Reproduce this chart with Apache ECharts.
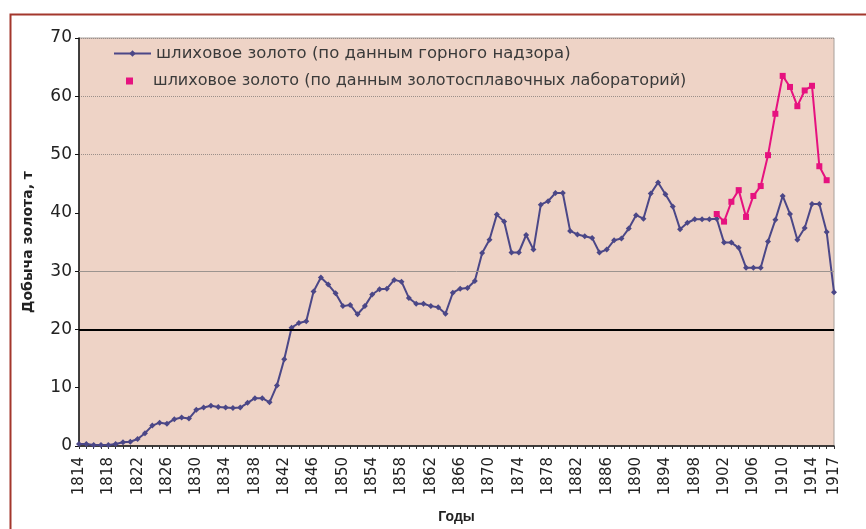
<!DOCTYPE html>
<html>
<head>
<meta charset="utf-8">
<script src="https://cdn.jsdelivr.net/npm/echarts@6/dist/echarts.min.js"></script>
<style>
html,body{margin:0;padding:0;background:#fff;}
#c{width:866px;height:529px;}
</style>
</head>
<body>
<div id="c"></div>
<script>
// ---- data ----
var years = [];
for (var y = 1814; y <= 1917; y++) years.push(String(y));

var gornyNadzor = [
  0.34, 0.34, 0.17, 0.17, 0.17, 0.34, 0.63, 0.74, 1.2, 2.2,
  3.5, 4.0, 3.8, 4.6, 4.9, 4.7, 6.2, 6.6, 6.9, 6.7,
  6.6, 6.5, 6.6, 7.4, 8.2, 8.2, 7.5, 10.4, 14.9, 20.3,
  21.1, 21.4,
  26.5, 28.9, 27.7, 26.2, 24.0, 24.2, 22.6, 24.0, 26.0, 26.9,
  27.0, 28.5, 28.2, 25.4, 24.4, 24.4, 24.0, 23.8, 22.7, 26.3,
  27.0, 27.1, 28.3,
  33.1, 35.4, 39.7, 38.5, 33.2, 33.2, 36.2, 33.7, 41.4, 42.0,
  43.4, 43.4, 36.9, 36.3, 36.0, 35.7, 33.2, 33.7, 35.3, 35.6,
  37.3, 39.6, 39.0, 43.3, 45.2, 43.2, 41.1, 37.2, 38.3, 38.9,
  38.9, 38.9, 39.0,
  34.9, 34.9, 34.0, 30.6, 30.6, 30.6, 35.1, 38.8, 42.9, 39.8,
  35.4, 37.4, 41.5, 41.5, 36.7, 26.4
];

var labYears = [1901,1902,1903,1904,1905,1906,1907,1908,1909,1910,1911,1912,1913,1914,1915,1916];
var labValues = [39.8, 38.5, 41.9, 43.9, 39.3, 42.9, 44.6, 49.9, 57.0, 63.5, 61.6, 58.3, 61.0, 61.8, 48.0, 45.6];

var yTicks = {min: 0, max: 70, step: 10};
var refLine = 20;
var gridLine30 = 30;

var name1 = 'шлиховое золото (по данным горного надзора)';
var name2 = 'шлиховое золото (по данным золотосплавочных лабораторий)';

// build lab series aligned with categories
var labSeries = years.map(function (yy) {
  var i = labYears.indexOf(Number(yy));
  return i >= 0 ? labValues[i] : null;
});

var chart = echarts.init(document.getElementById('c'), null, {renderer: 'canvas'});
var FONT = 'DejaVu Sans';
chart.setOption({
  backgroundColor: '#ffffff',
  animation: false,
  graphic: [{
    type: 'rect',
    left: 8, top: 12,
    shape: {width: 880, height: 540},
    style: {fill: 'none', stroke: '#a3372c', lineWidth: 2},
    z: -1
  }],
  grid: {
    left: 79, right: 32, top: 38, bottom: 82,
    show: true,
    backgroundColor: '#eed3c6',
    borderColor: '#a8a09b',
    borderWidth: 1
  },
  legend: [{
    data: [name1],
    left: 113, top: 45,
    padding: 0,
    orient: 'vertical',
    itemWidth: 37, itemHeight: 8,
    textStyle: {fontFamily: FONT, fontSize: 16.5, color: '#3a3a3a'}
  }, {
    data: [{name: name2, icon: 'rect'}],
    left: 126, top: 73,
    padding: 0,
    orient: 'vertical',
    itemWidth: 7, itemHeight: 7,
    textStyle: {fontFamily: FONT, fontSize: 16, color: '#3a3a3a', padding: [0, 0, 0, 15]}
  }],
  xAxis: {
    type: 'category',
    data: years,
    boundaryGap: false,
    name: 'Годы',
    nameLocation: 'middle',
    nameGap: 64,
    nameTextStyle: {fontFamily: 'Liberation Sans', fontWeight: 'bold', fontSize: 14, color: '#222'},
    axisLine: {lineStyle: {color: '#111', width: 1.5}},
    axisTick: {show: true, interval: 0, length: 3, lineStyle: {color: '#333'}},
    axisLabel: {
      rotate: 90,
      margin: 11,
      fontFamily: FONT,
      fontSize: 15,
      color: '#222',
      interval: function (index) {
        return index % 4 === 0 || index === years.length - 1;
      }
    },
    splitLine: {show: false}
  },
  yAxis: {
    type: 'value',
    min: yTicks.min, max: yTicks.max, interval: yTicks.step,
    name: 'Добыча золота, т',
    nameLocation: 'middle',
    nameGap: 44,
    nameTextStyle: {fontFamily: FONT, fontWeight: 'bold', fontSize: 14, color: '#222'},
    axisLine: {show: true, lineStyle: {color: '#111', width: 1.5}},
    axisTick: {show: true, length: 4, lineStyle: {color: '#111'}},
    axisLabel: {fontFamily: FONT, fontSize: 17, color: '#222', margin: 7},
    splitLine: {
      show: true,
      lineStyle: {
        type: 'dotted',
        width: 1,
        color: ['transparent', 'transparent', 'transparent', 'transparent', 'transparent', '#9b8f8a', '#9b8f8a', '#9b8f8a']
      }
    }
  },
  series: [{
    name: name1,
    type: 'line',
    data: gornyNadzor,
    symbol: 'diamond',
    symbolSize: 6,
    showAllSymbol: true,
    lineStyle: {color: '#4b4787', width: 2},
    itemStyle: {color: '#4b4787'},
    markLine: {
      silent: true,
      symbol: 'none',
      label: {show: false},
      data: [
        {yAxis: gridLine30, lineStyle: {color: '#9c948f', width: 1, type: 'solid'}},
        {yAxis: refLine, lineStyle: {color: '#000', width: 2, type: 'solid'}}
      ]
    },
    z: 3
  }, {
    name: name2,
    type: 'line',
    data: labSeries,
    symbol: 'rect',
    symbolSize: 6,
    showAllSymbol: true,
    connectNulls: false,
    lineStyle: {color: '#e6127f', width: 2},
    itemStyle: {color: '#e6127f'},
    z: 4
  }]
});
</script>
</body>
</html>
